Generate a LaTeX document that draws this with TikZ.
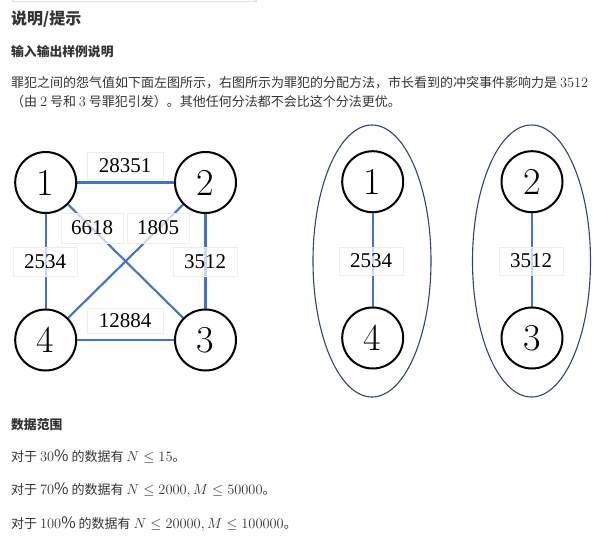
\documentclass[tikz,border=0pt]{standalone}
\usepackage{fontspec}
\setmainfont{Noto Sans CJK SC}
\newfontfamily\lmr{Latin Modern Roman}
\newfontfamily\lsr{Liberation Serif}
\newcommand{\mth}[1]{{\fontsize{15.7}{15.7}\selectfont$#1$}}
\definecolor{txt}{HTML}{333333}
\definecolor{edgeblue}{HTML}{4472C4}
\definecolor{navy}{HTML}{2F4470}
\begin{document}
\begin{tikzpicture}[x=1pt,y=-1pt,
  vert/.style={circle,draw=black,line width=2pt,minimum size=61pt,inner sep=0pt,fill=white,font=\lmr\fontsize{38}{38}\selectfont},
  wlabel/.style={draw=black!7,fill=white,fill opacity=0.72,text opacity=1,line width=0.6pt,minimum width=64pt,minimum height=29pt,inner sep=0pt,font=\lsr\fontsize{21}{21}\selectfont},
  widelabel/.style={wlabel,minimum width=76pt,minimum height=27pt},
  edge/.style={draw=edgeblue,line width=2.1pt},
  group/.style={draw=navy,line width=1.1pt},
  para/.style={anchor=west,inner sep=0pt,text=txt,font=\fontsize{13}{13}\selectfont},
  head/.style={anchor=west,inner sep=0pt,text=txt,font=\fontsize{12.8}{12.8}\selectfont\bfseries},
]
\useasboundingbox (0,0) rectangle (608,555);
% top faint rule
\draw[black!12,line width=1.2pt] (13,0) -- (13,1.5) -- (256,1.5) -- (256,0);
% texts
\node[anchor=west,inner sep=0pt,text=txt,font=\fontsize{16}{16}\selectfont\bfseries] (title) at (11,19.5) {说明/提示};
\node[head] (h1) at (11,52) {输入输出样例说明};
\node[para] (p1) at (11,83) {罪犯之间的怨气值如下面左图所示，右图所示为罪犯的分配方法，市长看到的冲突事件影响力是 \mth{3512}};
\node[para] (p2) at (11,101.5) {（由 \mth{2} 号和 \mth{3} 号罪犯引发）。其他任何分法都不会比这个分法更优。};
\node[head] (h2) at (11,425) {数据范围};
\node[para] (d1) at (11,457) {对于 \mth{30\%} 的数据有 \mth{N \le 15}。};
\node[para] (d2) at (11,490.5) {对于 \mth{70\%} 的数据有 \mth{N \le 2000,M \le 50000}。};
\node[para] (d3) at (11,524) {对于 \mth{100\%} 的数据有 \mth{N \le 20000,M \le 100000}。};
% left graph
\coordinate (c1) at (45.7,182.5);
\coordinate (c2) at (205.5,182.5);
\coordinate (c3) at (205.5,340);
\coordinate (c4) at (45.7,340);
\draw[edge] (c1) -- (c2);
\draw[edge] (c4) -- (c3);
\draw[edge] (c1) -- (c4);
\draw[edge] (c2) -- (c3);
\draw[edge] (c1) -- (c3);
\draw[edge] (c2) -- (c4);
\node[widelabel] (l12) at (125,165.5) {28351};
\node[wlabel,minimum width=62pt,minimum height=30pt] (l13) at (92,228) {6618};
\node[wlabel,minimum width=62pt,minimum height=30pt] (l24) at (158,228) {1805};
\node[wlabel] (l14) at (45,262) {2534};
\node[wlabel] (l23) at (205,262) {3512};
\node[widelabel,minimum height=25pt] (l43) at (125,320.5) {12884};
\node[vert] (n1) at (c1) {1};
\node[vert] (n2) at (c2) {2};
\node[vert] (n3) at (c3) {3};
\node[vert] (n4) at (c4) {4};
% right groups
\draw[group] (372,261) ellipse [x radius=59, y radius=136];
\draw[group] (531.5,261) ellipse [x radius=59, y radius=136];
\coordinate (r1) at (372.7,181.7);
\coordinate (r4) at (372.7,338);
\coordinate (r2) at (532,181.7);
\coordinate (r3) at (532,338);
\draw[edge] (r1) -- (r4);
\draw[edge] (r2) -- (r3);
\node[wlabel,minimum height=28pt] (rl14) at (371,261) {2534};
\node[wlabel,minimum height=28pt] (rl23) at (531,261) {3512};
\node[vert] (m1) at (r1) {1};
\node[vert] (m4) at (r4) {4};
\node[vert] (m2) at (r2) {2};
\node[vert] (m3) at (r3) {3};
\end{tikzpicture}
\end{document}
